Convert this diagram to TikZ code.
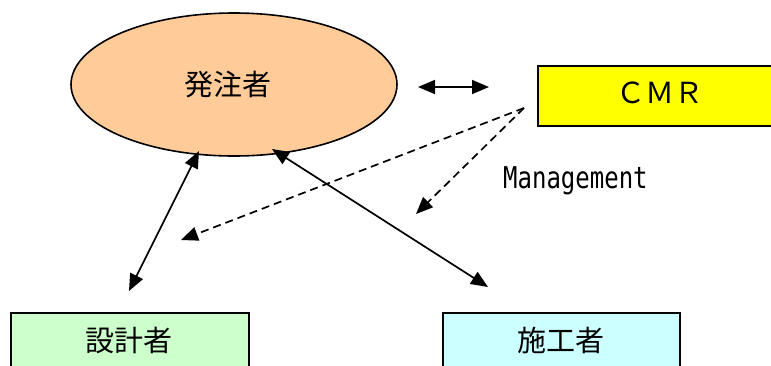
\documentclass[tikz,border=0pt]{standalone}
\usepackage{fontspec}
\usepackage{graphicx}
\newfontfamily\cjk{Noto Sans CJK JP}
\newfontfamily\monof{DejaVu Sans Mono}
\usetikzlibrary{shapes.geometric,arrows.meta}
\definecolor{ownerfill}{HTML}{FFCC99}
\definecolor{cmrfill}{HTML}{FFFF00}
\definecolor{designfill}{HTML}{CCFFCC}
\definecolor{buildfill}{HTML}{CCFFFF}
\tikzset{
  jp/.style={font=\cjk\fontsize{29}{32}\selectfont},
  boxnode/.style={draw=black, line width=1.8pt, inner sep=0pt, jp},
  tip/.style={Triangle[length=17pt,width=14pt]},
  link/.style={line width=1.7pt, {Triangle[length=17pt,width=14pt]}-{Triangle[length=17pt,width=14pt]}},
  mgmt/.style={line width=1.7pt, dash pattern=on 8pt off 5pt, -{Triangle[length=17pt,width=14pt]}}
}
\begin{document}
\begin{tikzpicture}[x=1pt,y=-1pt]
\clip (0,0) rectangle (771,365);
\fill[white] (0,0) rectangle (771,365);
\node[ellipse, draw=black, line width=1.6pt, fill=ownerfill, minimum width=326pt, minimum height=143pt, inner sep=0pt] (owner) at (234,84.5) {};
\node[jp, inner sep=0pt] (ownertext) at (228,85) {発注者};
\node[boxnode, fill=cmrfill, minimum width=244pt, minimum height=60pt] (cmr) at (660,96) {};
\node[jp, inner sep=0pt] (cmrtext) at (660,93) {ＣＭＲ};
\node[boxnode, fill=designfill, minimum width=238pt, minimum height=54pt] (design) at (130,340) {};
\node[jp, inner sep=0pt] (designtext) at (129,340) {設計者};
\node[boxnode, fill=buildfill, minimum width=237pt, minimum height=54pt] (build) at (561.5,340) {};
\node[jp, inner sep=0pt] (buildtext) at (561,340) {施工者};
\node[anchor=base west, inner sep=0pt, font=\monof\fontsize{24}{28}\selectfont] (mg) at (503,188) {\scalebox{1}[1.25]{Management}};
\coordinate (dOwner) at (199,151);
\coordinate (dTip) at (129,291);
\coordinate (bOwner) at (272,149);
\coordinate (bTip) at (488,287);
\coordinate (cA) at (418,87);
\coordinate (cB) at (489,87);
\coordinate (mStart) at (524,108);
\coordinate (mTip1) at (181,240);
\coordinate (mTip2) at (416,214);
\draw[link] (dOwner) -- (dTip);
\draw[link] (bOwner) -- (bTip);
\draw[link] (cA) -- (cB);
\draw[mgmt] (mStart) -- (mTip1);
\draw[mgmt] (mStart) -- (mTip2);
\end{tikzpicture}
\end{document}
